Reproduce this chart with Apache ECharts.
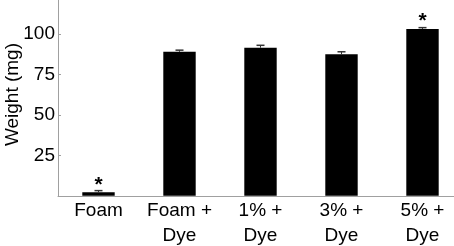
<!DOCTYPE html>
<html>
<head>
<meta charset="utf-8">
<script src="https://cdn.jsdelivr.net/npm/echarts@6/dist/echarts.min.js"></script>
<style>html,body{margin:0;padding:0;background:#fff}#c{width:454px;height:246px}</style>
</head>
<body>
<div id="c"></div>
<script>
const categories = ['Foam', 'Foam +\nDye', '1% +\nDye', '3% +\nDye', '5% +\nDye'];
const weights = [2.2, 88.9, 91.4, 87.3, 103.0];
const errors = [1.0, 1.0, 1.5, 1.6, 0.8];
const significance = ['*', '', '', '', '*'];
const yTicks = [25, 50, 75, 100];

const chart = echarts.init(document.getElementById('c'), null, {renderer: 'canvas'});
const FONT = 'Liberation Sans, Arial, sans-serif';

const barData = weights.map((v, i) => ({
  value: v,
  label: {
    show: significance[i] !== '',
    formatter: significance[i],
    position: 'top',
    distance: -3,
    color: '#000',
    fontSize: 21,
    fontWeight: 'bold',
    fontFamily: FONT
  }
}));

chart.setOption({
  animation: false,
  grid: {left: 58, top: -6.7, width: 405, height: 202.5, containLabel: false, outerBoundsMode: 'none'},
  xAxis: {
    type: 'category',
    data: categories,
    axisLine: {lineStyle: {color: '#a0a0a0', width: 1}},
    axisTick: {show: false},
    axisLabel: {color: '#000', fontSize: 19, fontFamily: FONT, lineHeight: 25, margin: 2, interval: 0}
  },
  yAxis: {
    type: 'value',
    min: 0, max: 125, interval: 25,
    name: 'Weight (mg)',
    nameLocation: 'middle',
    nameRotate: 90,
    nameGap: 36,
    nameMoveOverlap: false,
    nameTextStyle: {color: '#000', fontSize: 19, fontFamily: FONT},
    axisLine: {show: true, lineStyle: {color: '#a0a0a0', width: 1}},
    axisTick: {show: true, inside: true, length: 3, lineStyle: {color: '#a0a0a0'}},
    splitLine: {show: false},
    axisLabel: {
      color: '#000', fontSize: 19, fontFamily: FONT, margin: 3,
      formatter: v => yTicks.includes(v) ? String(v) : ''
    }
  },
  series: [
    {
      type: 'bar',
      data: barData,
      barWidth: '40%',
      itemStyle: {color: '#000'},
      z: 2
    },
    {
      type: 'custom',
      data: weights.map((v, i) => [i, v, errors[i]]),
      z: 3,
      renderItem: function (params, api) {
        const x = api.value(0);
        const v = api.value(1);
        const e = api.value(2);
        const p0 = api.coord([x, v]);
        const p1 = api.coord([x, v + e]);
        const hw = 4;
        return {
          type: 'group',
          children: [
            {type: 'line', shape: {x1: p0[0], y1: p0[1], x2: p1[0], y2: p1[1]}, style: {stroke: '#333', lineWidth: 1}},
            {type: 'line', shape: {x1: p1[0] - hw, y1: p1[1], x2: p1[0] + hw, y2: p1[1]}, style: {stroke: '#333', lineWidth: 1.5}}
          ]
        };
      }
    }
  ]
});
</script>
</body>
</html>
